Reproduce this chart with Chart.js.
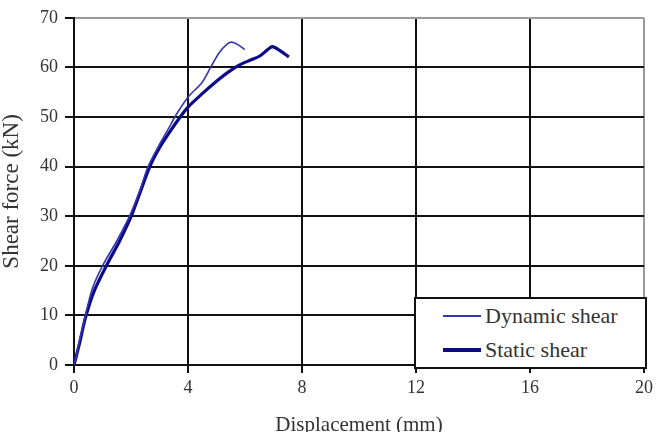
<!DOCTYPE html>
<html>
<head>
<meta charset="utf-8">
<script src="https://cdn.jsdelivr.net/npm/chart.js@4.4.1/dist/chart.umd.min.js"></script>
<style>
  html, body { margin: 0; padding: 0; background: #fff; }
  #wrap { position: relative; width: 658px; height: 432px; overflow: hidden; }
  #legend {
    position: absolute; left: 414px; top: 297px; width: 229px; height: 68px;
    background: #fff; border: 2px solid #111;
    font-family: 'Liberation Serif', 'Times New Roman', serif; font-size: 22px; color: #333;
  }
  .row { position: absolute; left: 27px; height: 26px; display: flex; align-items: center; }
  .row span.swatch { display: inline-block; width: 38px; margin-right: 4px; }
</style>
</head>
<body>
<div id="wrap">
  <canvas id="shear-chart" width="658" height="432"></canvas>
  <div id="legend">
    <div class="row" style="top:4px"><span class="swatch" style="border-top:2px solid #3535b0"></span>Dynamic shear</div>
    <div class="row" style="top:38px"><span class="swatch" style="border-top:4px solid #0a0a8a"></span>Static shear</div>
  </div>
</div>
<script>
// Shear force vs displacement
const dynamicX = [0, 0.2, 0.4, 0.65, 1.0, 1.5, 1.95, 2.3, 2.6, 3.0, 3.3, 3.6, 4.0, 4.5, 4.82, 5.1, 5.35, 5.52, 5.75, 5.99];
const dynamicY = [0, 5, 10, 15.5, 20, 25, 30, 35, 40, 44.5, 47.5, 50.6, 54, 57, 60.3, 63, 64.6, 65.1, 64.6, 63.6];

const staticX = [0, 0.2, 0.4, 0.7, 1.2, 1.6, 2.0, 2.3, 2.66, 3.0, 3.36, 3.7, 4.0, 4.5, 5.0, 5.4, 5.81, 6.2, 6.52, 6.8, 6.96, 7.2, 7.54];
const staticY = [0, 4.5, 9.5, 14.8, 20.7, 25, 29.9, 34.5, 40, 43.8, 47, 49.8, 52, 54.7, 57.2, 59, 60.5, 61.5, 62.3, 63.6, 64.2, 63.5, 62.1];

const xTicks = [0, 4, 8, 12, 16, 20];
const yTicks = [0, 10, 20, 30, 40, 50, 60, 70];

const toPoints = (xs, ys) => xs.map((x, i) => ({ x: x, y: ys[i] }));

const serif = "'Liberation Serif', 'Times New Roman', serif";
const gridColor = (edge) => (c) => (c.tick && c.tick.value === edge ? '#9a9a9a' : '#111');

new Chart(document.getElementById('shear-chart'), {
  type: 'scatter',
  data: {
    datasets: [
      {
        label: 'Dynamic shear',
        data: toPoints(dynamicX, dynamicY),
        showLine: true,
        borderColor: '#3535b0',
        borderWidth: 1.6,
        pointRadius: 0,
        tension: 0.3
      },
      {
        label: 'Static shear',
        data: toPoints(staticX, staticY),
        showLine: true,
        borderColor: '#0a0a8a',
        borderWidth: 3.2,
        pointRadius: 0,
        tension: 0.3
      }
    ]
  },
  options: {
    responsive: false,
    animation: false,
    layout: { padding: { top: 10, right: 14, left: 0, bottom: 0 } },
    plugins: { legend: { display: false }, tooltip: { enabled: false } },
    scales: {
      x: {
        type: 'linear',
        min: 0, max: 20,
        afterBuildTicks: (s) => { s.ticks = xTicks.map(v => ({ value: v })); },
        afterFit: (s) => { s.height = 67; },
        grid: { color: gridColor(20), tickColor: '#111', lineWidth: 2, tickLength: 8 },
        border: { color: '#111', width: 2 },
        ticks: { color: '#333', padding: 4, font: { family: serif, size: 18 } },
        title: {
          display: true, text: 'Displacement (mm)', color: '#333',
          font: { family: serif, size: 21 }, padding: { top: 0, bottom: -6 }
        }
      },
      y: {
        type: 'linear',
        min: 0, max: 70,
        afterBuildTicks: (s) => { s.ticks = yTicks.map(v => ({ value: v })); },
        afterFit: (s) => { s.width = 74; },
        grid: { color: gridColor(70), tickColor: '#111', lineWidth: 2, tickLength: 9 },
        border: { color: '#111', width: 2 },
        ticks: { color: '#333', padding: 7, font: { family: serif, size: 18 } },
        title: {
          display: true, text: 'Shear force (kN)', color: '#333',
          font: { family: serif, size: 23 }, padding: { top: -2, bottom: 0 }
        }
      }
    }
  }
});
</script>
</body>
</html>
